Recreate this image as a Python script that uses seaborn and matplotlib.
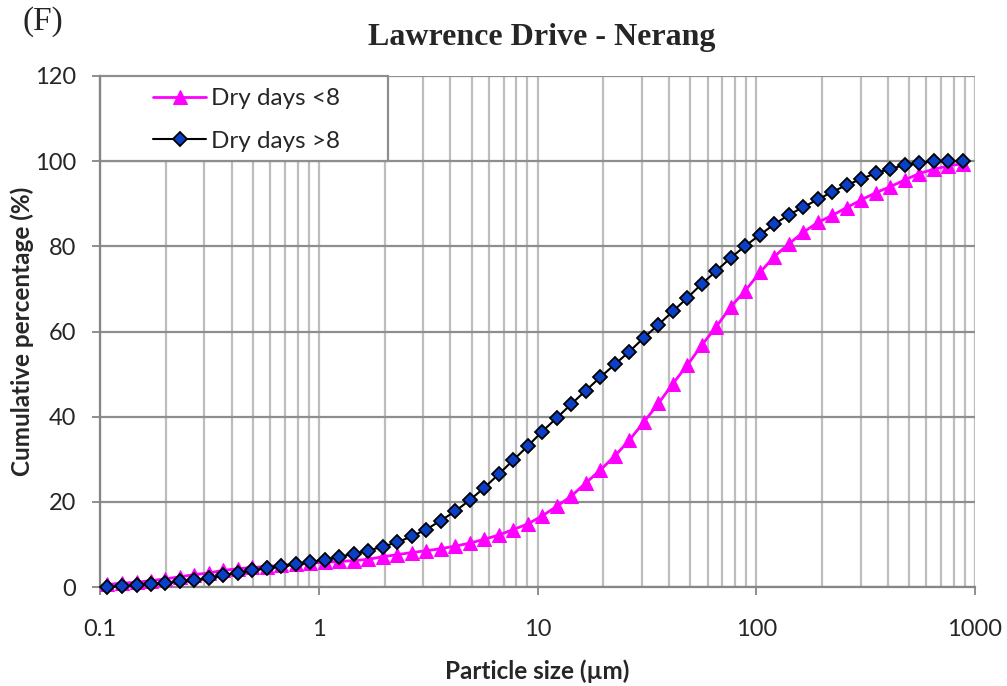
import matplotlib
matplotlib.use("Agg")
import matplotlib.pyplot as plt
from matplotlib.ticker import FixedLocator, FuncFormatter, LogLocator, NullFormatter
from matplotlib.patches import Rectangle
import pandas as pd
import seaborn as sns

# Particle size classes (µm) and cumulative passing (%) for the two antecedent-dry-day groups
particle_size_um = [
    0.108, 0.126, 0.147, 0.171, 0.199, 0.232, 0.270, 0.314, 0.366, 0.427,
    0.497, 0.579, 0.674, 0.785, 0.915, 1.07, 1.24, 1.45, 1.68, 1.96,
    2.29, 2.66, 3.10, 3.61, 4.21, 4.90, 5.71, 6.65, 7.75, 9.03,
    10.5, 12.3, 14.3, 16.6, 19.4, 22.6, 26.3, 30.6, 35.7, 41.5,
    48.4, 56.4, 65.6, 76.4, 89.1, 104, 121, 141, 164, 191,
    223, 259, 302, 352, 410, 478, 556, 648, 755, 879,
]
dry_days_lt8 = [
    0.6, 0.9, 1.1, 1.5, 1.9, 2.4, 2.9, 3.3, 3.9, 4.3,
    4.6, 4.8, 5.1, 5.3, 5.6, 5.8, 6.0, 6.2, 6.5, 7.1,
    7.6, 8.1, 8.5, 9.0, 9.6, 10.3, 11.2, 12.2, 13.5, 14.8,
    16.7, 19.0, 21.4, 24.4, 27.5, 30.8, 34.5, 38.7, 43.1, 47.7,
    52.1, 56.8, 61.1, 65.8, 69.6, 73.9, 77.6, 80.6, 83.3, 85.6,
    87.3, 89.1, 90.9, 92.6, 94.0, 95.6, 97.1, 98.1, 98.9, 99.4,
]
dry_days_gt8 = [
    0.1, 0.2, 0.4, 0.6, 0.9, 1.3, 1.6, 2.1, 2.8, 3.4,
    3.9, 4.4, 4.9, 5.3, 5.9, 6.4, 7.1, 7.8, 8.5, 9.5,
    10.5, 11.9, 13.5, 15.6, 17.8, 20.4, 23.3, 26.5, 29.8, 33.1,
    36.5, 39.8, 43.0, 46.1, 49.3, 52.3, 55.3, 58.5, 61.6, 64.7,
    67.9, 71.2, 74.2, 77.3, 80.1, 82.7, 85.2, 87.4, 89.2, 91.0,
    92.8, 94.4, 95.8, 97.2, 98.2, 99.1, 99.6, 100.0, 100.0, 100.0,
]
series_labels = ["Dry days <8", "Dry days >8"]
x_ticks = [0.1, 1, 10, 100, 1000]
y_ticks = [0, 20, 40, 60, 80, 100, 120]
panel_label = "(F)"
chart_title = "Lawrence Drive - Nerang"
x_label = "Particle size (µm)"
y_label = "Cumulative percentage (%)"

sns.set_style("white")
plt.rcParams["font.family"] = ["Lato", "DejaVu Sans"]

fig = plt.figure(figsize=(10.07, 6.86), dpi=100)
ax = fig.add_axes([100 / 1007, 99 / 686, 875 / 1007, 511 / 686])

df = pd.DataFrame({
    "size": particle_size_um,
    series_labels[0]: dry_days_lt8,
    series_labels[1]: dry_days_gt8,
})

sns.lineplot(data=df, x="size", y=series_labels[0], ax=ax, color="#FF00FF",
             linewidth=2.0, marker="^", markersize=10, markeredgecolor="#FF00FF",
             markerfacecolor="#FF00FF", label=series_labels[0], clip_on=False, zorder=3)
sns.lineplot(data=df, x="size", y=series_labels[1], ax=ax, color="black",
             linewidth=1.5, marker="D", markersize=7, markeredgecolor="black",
             markeredgewidth=1.3, markerfacecolor="#0B3FC6", label=series_labels[1],
             clip_on=False, zorder=4)

ax.set_xscale("log")
ax.set_xlim(0.1, 1000)
ax.set_ylim(0, 120)
ax.xaxis.set_major_locator(FixedLocator(x_ticks))
ax.xaxis.set_major_formatter(FuncFormatter(lambda v, _: f"{v:g}"))
ax.xaxis.set_minor_locator(LogLocator(base=10, subs=range(2, 10)))
ax.xaxis.set_minor_formatter(NullFormatter())
ax.yaxis.set_major_locator(FixedLocator(y_ticks))

ax.set_axisbelow(True)
ax.grid(which="both", axis="x", color="#BDBDBD", linewidth=1.6)
ax.grid(which="major", axis="y", color="#8E8E8E", linewidth=1.6)

for side in ("top", "right"):
    ax.spines[side].set_visible(False)
for side in ("left", "bottom"):
    ax.spines[side].set_color("#868686")
    ax.spines[side].set_linewidth(1.6)

ax.tick_params(axis="y", which="major", direction="out", length=6, width=1.3,
               color="#868686", pad=11, labelsize=17, left=True)
ax.tick_params(axis="x", which="major", direction="out", length=6, width=1.3,
               color="#868686", pad=17, labelsize=17, bottom=True)
ax.tick_params(axis="x", which="minor", length=0)

ax.set_xlabel(x_label, fontsize=17.5, fontweight="bold", labelpad=14)
ax.set_ylabel(y_label, fontsize=17.5, fontweight="bold", labelpad=1)

# Legend box: white panel over the grid in the upper-left corner
ax.add_patch(Rectangle((0, 100 / 120), 288 / 875, 20 / 120, transform=ax.transAxes,
                       facecolor="white", edgecolor="#8E8E8E", linewidth=1.6,
                       zorder=2.5, clip_on=False))
ax.legend(loc="upper left", bbox_to_anchor=(153 / 1007, 1 - 88 / 686),
          bbox_transform=fig.transFigure, frameon=False, borderpad=0,
          borderaxespad=0, handlelength=2.2, handletextpad=0.2,
          labelspacing=0.9, fontsize=17.5)

fig.text(542 / 1007, 1 - 38 / 686, chart_title, ha="center", va="center",
         family="Liberation Serif", fontweight="bold", fontsize=23)
fig.text(22 / 1007, 1 - 22 / 686, panel_label, ha="left", va="center",
         family="Liberation Serif", fontsize=24)

fig.savefig("out.png", dpi=100)
